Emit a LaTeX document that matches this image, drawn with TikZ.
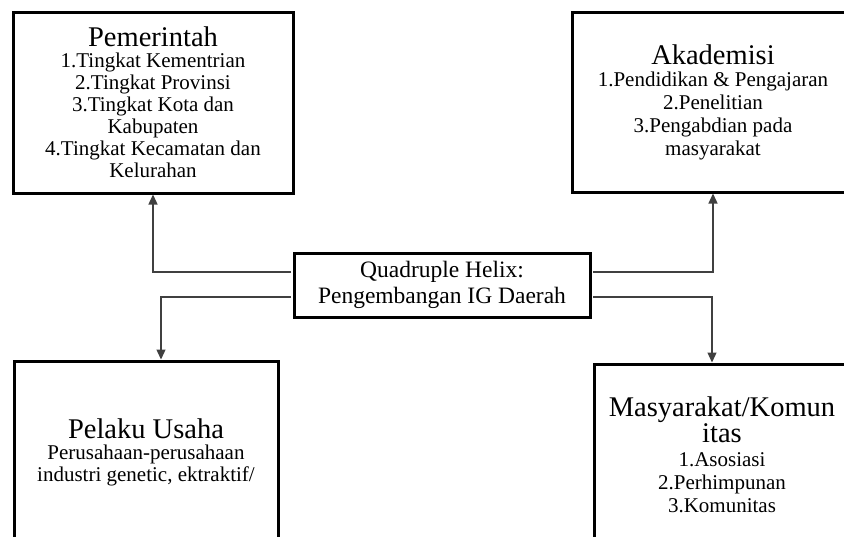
\documentclass[tikz,border=0pt]{standalone}
\usepackage{fontspec}
\setmainfont{Liberation Serif}
\usetikzlibrary{arrows.meta}
\newcommand\ttlfont{\fontsize{28.5}{30}\selectfont}
\begin{document}
\begin{tikzpicture}[x=1pt,y=-1pt,
  box/.style={draw=black, line width=3pt, align=center, inner sep=0pt,
    font=\fontsize{21}{22}\selectfont},
  conn/.style={draw=black!75, line width=1.3pt, shorten <=1.5pt,
    -{Triangle[length=10pt,width=9pt]}}]
\useasboundingbox (0,0) rectangle (844,536);
\clip (0,0) rectangle (844,536);
\node[box, minimum width=280pt, minimum height=181pt] (pem) at (153,102.5)
  {{\ttlfont Pemerintah}\\[-1pt]
   1.Tingkat Kementrian\\ 2.Tingkat Provinsi\\ 3.Tingkat Kota dan\\
   Kabupaten\\ 4.Tingkat Kecamatan dan\\ Kelurahan};
\node[box, minimum width=282pt, minimum height=180pt,
  font=\fontsize{21}{23}\selectfont] (aka) at (713,102)
  {{\ttlfont Akademisi}\\[-1pt]
   1.Pendidikan \& Pengajaran\\ 2.Penelitian\\ 3.Pengabdian pada\\ masyarakat};
\node[box, minimum width=296pt, minimum height=64pt,
  font=\fontsize{23.5}{26}\selectfont] (c) at (442,285)
  {Quadruple Helix:\\ Pengembangan IG Daerah};
\node[box, minimum width=264pt, minimum height=182pt] (pel) at (146,452)
  {{\ttlfont Pelaku Usaha}\\[-1pt]
   Perusahaan-perusahaan\\ industri genetic, ektraktif/};
\node[box, minimum width=256pt, minimum height=182pt,
  font=\fontsize{21}{23}\selectfont] (mas) at (722,455)
  {{\ttlfont Masyarakat/Komun}\\ {\ttlfont itas}\\[1pt]
   1.Asosiasi\\ 2.Perhimpunan\\ 3.Komunitas};
\draw[conn] ([yshift=13pt]c.west) -| (pem.south);
\draw[conn] ([yshift=-12pt]c.west) -| ([xshift=15pt]pel.north);
\draw[conn] ([yshift=13pt]c.east) -| (aka.south);
\draw[conn] ([yshift=-12pt]c.east) -| ([xshift=-10pt]mas.north);
\end{tikzpicture}
\end{document}
